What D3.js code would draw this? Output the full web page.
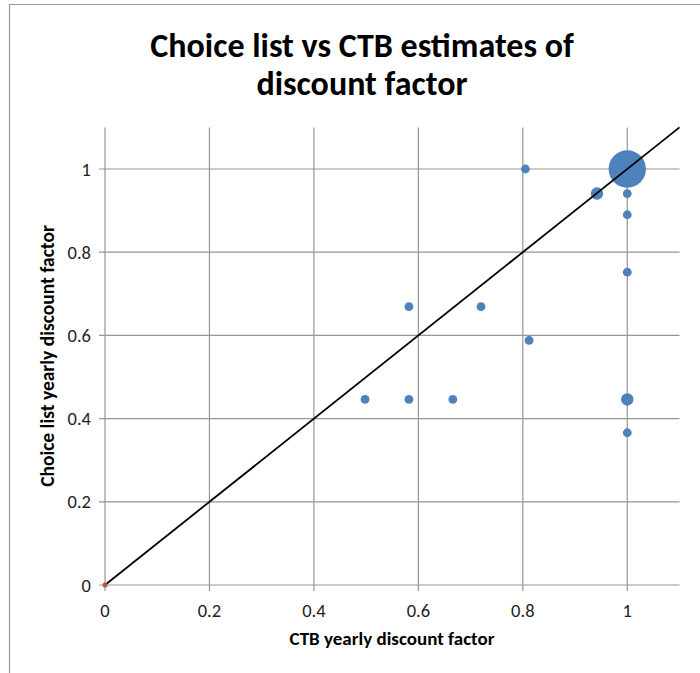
<!DOCTYPE html>
<html>
<head>
<meta charset="utf-8">
<script src="https://cdn.jsdelivr.net/npm/d3@7"></script>
<style>
  html, body { margin: 0; padding: 0; background: #fff; }
  svg { display: block; }
</style>
</head>
<body>
<svg id="chart" width="700" height="673"></svg>
<script>
// CTB estimate (x), choice-list estimate (y), and number of subjects (bubble size)
const ctbFactor    = [1.00, 0.942, 1.00, 1.00, 0.805, 1.00, 0.582, 0.720, 0.812, 0.498, 0.582, 0.666, 1.00, 1.00];
const choiceFactor = [1.00, 0.941, 0.941, 0.89, 1.00, 0.752, 0.669, 0.669, 0.588, 0.446, 0.446, 0.446, 0.446, 0.366];
const subjects     = [18, 2, 1, 1, 1, 1, 1, 1, 1, 1, 1, 1, 2, 1];
const tickValues   = [0, 0.2, 0.4, 0.6, 0.8, 1];
const tickLabels   = ["0", "0.2", "0.4", "0.6", "0.8", "1"];
const titleLines   = ["Choice list vs CTB estimates of", "discount factor"];
const xTitle = "CTB yearly discount factor";
const yTitle = "Choice list yearly discount factor";

const svg = d3.select("#chart");
const font = "Calibri, Carlito, Lato, 'Open Sans', sans-serif";

// outer frame
svg.append("path")
  .attr("d", "M9.5,673 V4.5 H700")
  .attr("fill", "none").attr("stroke", "#9a9a9a").attr("stroke-width", 1.2);

const x = d3.scaleLinear().domain([0, 1.1]).range([105, 679.5]);
const y = d3.scaleLinear().domain([0, 1.1]).range([585, 127.4]);
const r = d3.scaleSqrt().domain([0, 1]).range([0, 4.4]);

const grid = svg.append("g").attr("stroke", "#969696").attr("stroke-width", 1.2);
// vertical gridlines (including y axis), with small ticks below the x axis
tickValues.forEach(v => {
  grid.append("line").attr("x1", x(v)).attr("x2", x(v)).attr("y1", y(1.1)).attr("y2", y(0) + 6);
});
// horizontal gridlines (including x axis), with small ticks left of the y axis
tickValues.forEach(v => {
  grid.append("line").attr("x1", x(0) - 6).attr("x2", x(1.1)).attr("y1", y(v)).attr("y2", y(v));
});

// tick labels
svg.append("g").selectAll("text").data(tickValues).join("text")
  .attr("x", d => x(d)).attr("y", 617)
  .attr("text-anchor", "middle")
  .attr("font-family", font).attr("font-size", 18.5).attr("fill", "#222")
  .text((d, i) => tickLabels[i]);
svg.append("g").selectAll("text").data(tickValues).join("text")
  .attr("x", 91).attr("y", d => y(d) + 6.5)
  .attr("text-anchor", "end")
  .attr("font-family", font).attr("font-size", 18.5).attr("fill", "#222")
  .text((d, i) => tickLabels[i]);

// bubbles
const pts = ctbFactor.map((c, i) => ({ cx: c, cy: choiceFactor[i], n: subjects[i] }));
svg.append("g").selectAll("circle").data(pts).join("circle")
  .attr("cx", d => x(d.cx)).attr("cy", d => y(d.cy)).attr("r", d => r(d.n))
  .attr("fill", "#4f81bd");

// 45-degree reference line
svg.append("line")
  .attr("x1", x(0)).attr("y1", y(0)).attr("x2", x(1.1)).attr("y2", y(1.1))
  .attr("stroke", "#000").attr("stroke-width", 1.8);

// origin marker
svg.append("circle").attr("cx", x(0)).attr("cy", y(0)).attr("r", 2.5).attr("fill", "#c0504d");

// titles
svg.append("g").selectAll("text").data(titleLines).join("text")
  .attr("x", 362).attr("y", (d, i) => 57 + i * 37.5)
  .attr("text-anchor", "middle")
  .attr("font-family", font).attr("font-weight", "bold").attr("font-size", 34).attr("fill", "#000")
  .text(d => d);

svg.append("text")
  .attr("x", 392).attr("y", 645).attr("text-anchor", "middle")
  .attr("font-family", font).attr("font-weight", "bold").attr("font-size", 19).attr("fill", "#000")
  .text(xTitle);

svg.append("text")
  .attr("transform", "translate(54,356) rotate(-90)")
  .attr("text-anchor", "middle")
  .attr("font-family", font).attr("font-weight", "bold").attr("font-size", 19.5).attr("fill", "#000")
  .text(yTitle);
</script>
</body>
</html>
